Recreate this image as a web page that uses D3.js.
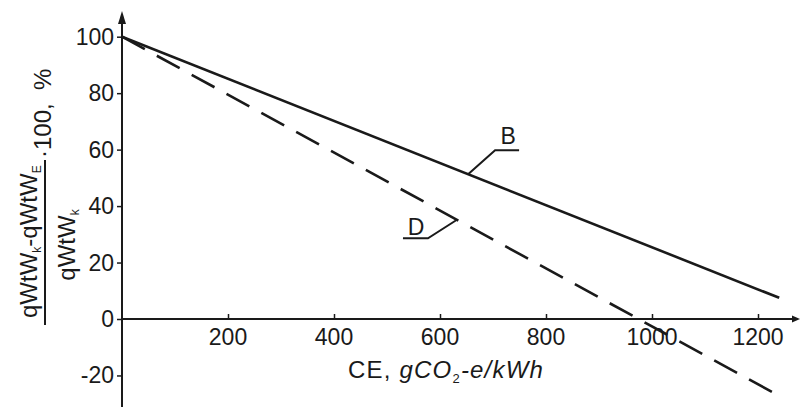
<!DOCTYPE html>
<html><head><meta charset="utf-8">
<script src="https://cdn.jsdelivr.net/npm/d3@7"></script>
<style>body{margin:0;background:#fff}svg{display:block}text{font-family:"Liberation Sans",Arial,sans-serif;fill:#1a1a1a}</style>
</head><body>
<svg id="c" width="800" height="407"></svg>
<script>
// data
const xTicks = [200, 400, 600, 800, 1000, 1200];
const yTicks = [-20, 0, 20, 40, 60, 80, 100];
const seriesNames = ["B", "D"];
const seriesB = [[0, 100], [1240, 7.5]];
const seriesD = [[0, 100], [1228, -26]];
const labelAt = [653, 632]; // CE value where the B / D leader touches its line

const svg = d3.select("#c");
const ink = "#1a1a1a";
const x = d3.scaleLinear().domain([0, 1200]).range([122, 758]);
const y = d3.scaleLinear().domain([0, 100]).range([319, 36.7]);

// axes lines
svg.append("line").attr("x1", x(0)).attr("x2", 797).attr("y1", y(0)).attr("y2", y(0)).attr("stroke", ink).attr("stroke-width", 2);
svg.append("line").attr("x1", x(0)).attr("x2", x(0)).attr("y1", 407).attr("y2", 16).attr("stroke", ink).attr("stroke-width", 2);
// arrow heads
svg.append("path").attr("d", `M${x(0)},11 L${x(0)-4},24 L${x(0)+4},24 Z`).attr("fill", ink);
svg.append("path").attr("d", `M800,${y(0)} L792,${y(0)-3.5} L792,${y(0)+3.5} Z`).attr("fill", ink);

// x axis ticks (inward) + labels
const xAxis = d3.axisTop(x).tickValues(xTicks).tickSize(5).tickFormat("");
const gx = svg.append("g").attr("transform", `translate(0,${y(0)})`).call(xAxis);
gx.select(".domain").remove();
gx.selectAll("line").attr("stroke", ink).attr("stroke-width", 1.5);
svg.selectAll(".xl").data(xTicks).enter().append("text")
  .attr("x", d => x(d)).attr("y", 345).attr("text-anchor", "middle")
  .attr("font-size", 23).text(d => d);

// y axis ticks + labels
const yAxis = d3.axisLeft(y).tickValues(yTicks).tickSize(5).tickFormat("");
const gy = svg.append("g").attr("transform", `translate(${x(0)},0)`).call(yAxis);
gy.select(".domain").remove();
gy.selectAll("line").attr("stroke", ink).attr("stroke-width", 1.5);
svg.selectAll(".yl").data(yTicks).enter().append("text")
  .attr("x", 114).attr("y", d => y(d) + 8).attr("text-anchor", "end")
  .attr("font-size", 23).text(d => d);

// lines
const line = d3.line().x(d => x(d[0])).y(d => y(d[1]));
svg.append("path").datum(seriesB).attr("d", line).attr("fill", "none").attr("stroke", ink).attr("stroke-width", 2.6);
svg.append("path").datum(seriesD).attr("d", line).attr("fill", "none").attr("stroke", ink).attr("stroke-width", 2.6).attr("stroke-dasharray", "26,13.7");

// leaders
function yOn(s, v) { const [a, b] = s; return a[1] + (b[1] - a[1]) * (v - a[0]) / (b[0] - a[0]); }
const bx = x(labelAt[0]), by = y(yOn(seriesB, labelAt[0]));
svg.append("path").attr("d", `M${bx},${by} L${bx+27},${by-24} L${bx+51},${by-24}`).attr("fill", "none").attr("stroke", ink).attr("stroke-width", 2);
svg.append("text").attr("x", bx + 40).attr("y", by - 30).attr("text-anchor", "middle").attr("font-size", 23).text(seriesNames[0]);
const dx = x(labelAt[1]), dy = y(yOn(seriesD, labelAt[1]));
svg.append("path").attr("d", `M${dx},${dy} L${dx-29},${dy+18.5} L${dx-54},${dy+18.5}`).attr("fill", "none").attr("stroke", ink).attr("stroke-width", 2);
svg.append("text").attr("x", dx - 41).attr("y", dy + 15.5).attr("text-anchor", "middle").attr("font-size", 23).text(seriesNames[1]);

// x title
const xt = svg.append("text").attr("x", 348).attr("y", 378).attr("font-size", 24).attr("letter-spacing", 1.2);
xt.append("tspan").text("CE, ");
xt.append("tspan").attr("font-style", "italic").text("gCO");
xt.append("tspan").attr("font-size", 13).attr("dy", 5).text("2");
xt.append("tspan").attr("font-style", "italic").attr("dy", -5).text("-e/kWh");

// y title (fraction), rotated
const yt = svg.append("g").attr("transform", "rotate(-90)");
const num = yt.append("text").attr("x", -318).attr("y", 37).attr("font-size", 24);
num.append("tspan").text("qWtW");
num.append("tspan").attr("font-size", 12).attr("dy", 4).text("k");
num.append("tspan").attr("dy", -4).text("-qWtW");
num.append("tspan").attr("font-size", 12).attr("dy", 4).text("E");
const den = yt.append("text").attr("x", -245).attr("y", 75).attr("text-anchor", "middle").attr("font-size", 24);
den.append("tspan").text("qWtW");
den.append("tspan").attr("font-size", 12).attr("dy", 4).text("k");
yt.append("line").attr("x1", -325).attr("x2", -160).attr("y1", 45).attr("y2", 45).attr("stroke", ink).attr("stroke-width", 2);
yt.append("text").attr("x", -158).attr("y", 51).attr("font-size", 24).attr("xml:space", "preserve").text("·100,  %");
</script>
</body></html>
